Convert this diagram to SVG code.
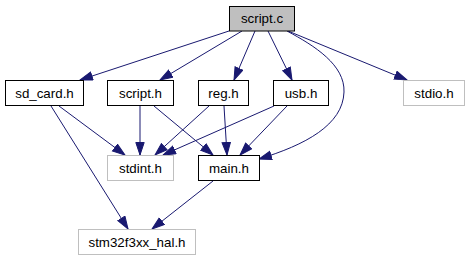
<svg xmlns="http://www.w3.org/2000/svg" width="470" height="261" viewBox="0 0 470 261">
  <style>
    .node rect { fill: #ffffff; stroke: #000000; stroke-width: 1; }
    .node.ext rect { stroke: #bfbfbf; }
    .node.root rect { fill: #bfbfbf; }
    .node text { font-family: "Liberation Sans", Arial, Helvetica, sans-serif; font-size: 13.33px; fill: #000000; text-anchor: middle; }
    .edges path { fill: none; stroke: #191970; stroke-width: 1; marker-end: url(#arrow); }
  </style>
  <defs>
    <marker id="arrow" markerUnits="userSpaceOnUse" markerWidth="14" markerHeight="11" refX="13" refY="4.7" orient="auto">
      <path d="M0.5,0.5 L13,4.7 L0.5,8.9 z" fill="#191970" stroke="#191970" stroke-width="1"/>
    </marker>
  </defs>
  <rect width="470" height="261" fill="#ffffff"/>

  <g class="edges">
    <path d="M229,31 L80,80"/>
    <path d="M242,31 L160,80"/>
    <path d="M255,31 L234,80"/>
    <path d="M268,31 L292,80"/>
    <path d="M287,31 C315,46 345,65 344,92 C343,125 305,145 259,159"/>
    <path d="M288,31 L407,80"/>
    <path d="M59,106 L125,155"/>
    <path d="M51,106 L128,229"/>
    <path d="M140,106 L140,155"/>
    <path d="M154,106 L213,155"/>
    <path d="M209,106 L155,155"/>
    <path d="M224,106 L227,155"/>
    <path d="M274,106 L163,155"/>
    <path d="M287,106 L240,155"/>
    <path d="M213,181 L152,229"/>
  </g>

  <g id="node-script_c" class="node root">
    <rect x="229.5" y="6.5" width="65" height="24.5"/>
    <text x="262" y="23">script.c</text>
  </g>
  <g id="node-sd_card_h" class="node">
    <rect x="5.5" y="80.5" width="78" height="25"/>
    <text x="44.5" y="97.5">sd_card.h</text>
  </g>
  <g id="node-script_h" class="node">
    <rect x="107.5" y="80.5" width="66" height="25"/>
    <text x="140.5" y="97.5">script.h</text>
  </g>
  <g id="node-reg_h" class="node">
    <rect x="198.5" y="80.5" width="50" height="25"/>
    <text x="223.5" y="97.5">reg.h</text>
  </g>
  <g id="node-usb_h" class="node">
    <rect x="273.5" y="80.5" width="55" height="25"/>
    <text x="301" y="97.5">usb.h</text>
  </g>
  <g id="node-stdio_h" class="node ext">
    <rect x="403.5" y="80.5" width="61" height="25"/>
    <text x="434" y="97.5">stdio.h</text>
  </g>
  <g id="node-stdint_h" class="node ext">
    <rect x="107.5" y="155.5" width="66" height="25"/>
    <text x="140.5" y="172.5">stdint.h</text>
  </g>
  <g id="node-main_h" class="node">
    <rect x="198.5" y="155.5" width="61" height="25"/>
    <text x="229" y="172.5">main.h</text>
  </g>
  <g id="node-stm32f3xx_hal_h" class="node ext">
    <rect x="78.5" y="229.5" width="117" height="25"/>
    <text x="137" y="246.5">stm32f3xx_hal.h</text>
  </g>
</svg>
